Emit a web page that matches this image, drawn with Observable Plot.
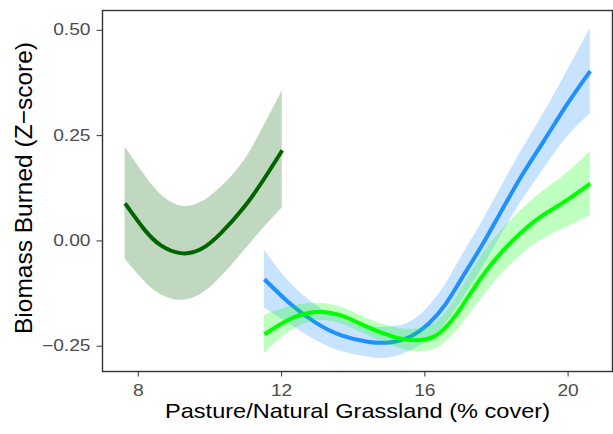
<!DOCTYPE html>
<html><head><meta charset="utf-8">
<script src="https://cdn.jsdelivr.net/npm/d3@7"></script>
<script src="https://cdn.jsdelivr.net/npm/@observablehq/plot@0.6"></script>
<style>html,body{margin:0;padding:0;background:#fff} svg{display:block}</style>
</head><body><div id="chart"></div>
<script>
// Axis ticks and titles
const xTicks = [8, 12, 16, 20];
const yTicks = [-0.25, 0, 0.25, 0.5];
const xTitle = "Pasture/Natural Grassland (% cover)";
const yTitle = "Biomass Burned (Z\u2212score)";

// Dark green smooth
const darkX   = [7.63, 8.16, 8.62, 9.18, 9.74, 10.30, 10.95, 11.51, 12.02];
const darkFit = [0.089, 0.028, -0.010, -0.029, -0.020, 0.018, 0.080, 0.147, 0.215];
const darkHi  = [0.223, 0.158, 0.111, 0.083, 0.091, 0.127, 0.190, 0.273, 0.356];
const darkLo  = [-0.043, -0.095, -0.127, -0.141, -0.127, -0.087, -0.024, 0.032, 0.079];

// Blue smooth
const blueX   = [11.52, 12.2, 12.95, 13.69, 14.44, 15.0, 15.55, 16.11, 16.58, 17.0, 17.55, 18.02, 18.67, 19.32, 19.97, 20.62];
const blueFit = [-0.091, -0.146, -0.194, -0.225, -0.240, -0.241, -0.229, -0.196, -0.150, -0.093, -0.017, 0.053, 0.150, 0.237, 0.324, 0.403];
const blueHi  = [-0.022, -0.096, -0.152, -0.187, -0.204, -0.204, -0.194, -0.156, -0.103, -0.041, 0.038, 0.110, 0.210, 0.303, 0.402, 0.505];
const blueLo  = [-0.160, -0.196, -0.236, -0.263, -0.276, -0.278, -0.264, -0.236, -0.197, -0.145, -0.072, -0.004, 0.090, 0.171, 0.246, 0.301];

// Bright green smooth
const greenX   = [11.52, 12.2, 12.95, 13.69, 14.44, 15.18, 15.74, 16.30, 16.72, 17.0, 17.55, 18.11, 18.67, 19.23, 19.97, 20.62];
const greenFit = [-0.222, -0.187, -0.169, -0.178, -0.206, -0.229, -0.236, -0.225, -0.192, -0.160, -0.090, -0.030, 0.018, 0.057, 0.097, 0.136];
const greenHi  = [-0.177, -0.157, -0.148, -0.158, -0.186, -0.206, -0.209, -0.194, -0.155, -0.118, -0.040, 0.022, 0.071, 0.113, 0.161, 0.212];
const greenLo  = [-0.267, -0.217, -0.190, -0.198, -0.226, -0.252, -0.263, -0.256, -0.229, -0.202, -0.140, -0.082, -0.035, 0.001, 0.033, 0.060];

const rows = (xs, fit, lo, hi) => xs.map((x, i) => ({x, fit: fit[i], lo: lo[i], hi: hi[i]}));
const dark = rows(darkX, darkFit, darkLo, darkHi);
const blue = rows(blueX, blueFit, blueLo, blueHi);
const green = rows(greenX, greenFit, greenLo, greenHi);

const curve = "natural";
const layer = (data, color) => [
  Plot.areaY(data, {x: "x", y1: "lo", y2: "hi", fill: color, fillOpacity: 0.25, curve}),
  Plot.line(data, {x: "x", y: "fit", stroke: color, strokeWidth: 4, strokeLinecap: "butt", curve})
];

const chart = Plot.plot({
  width: 613, height: 434,
  marginLeft: 102, marginRight: 1, marginTop: 10, marginBottom: 63,
  style: {fontFamily: "'Liberation Sans', Arial, sans-serif", fontSize: "16px", background: "white", color: "#333333"},
  x: {domain: [7.0, 21.24], ticks: xTicks, tickSize: 5.5, tickPadding: 8, label: null, tickFormat: d3.format("d")},
  y: {domain: [-0.310, 0.547], ticks: yTicks, tickSize: 5.5, tickPadding: 6.5, label: null, tickFormat: d3.format(".2f")},
  marks: [
    ...layer(dark, "#006400"),
    ...layer(blue, "#1E90FF"),
    ...layer(green, "#00FF00"),
    Plot.frame({stroke: "#333333", strokeWidth: 1.4}),
    Plot.text([xTitle], {text: d => d, frameAnchor: "bottom", dy: 46, fontSize: 21, fill: "black"}),
    Plot.text([yTitle], {text: d => d, frameAnchor: "left", textAnchor: "middle", dx: -78, dy: -3, rotate: -90, fontSize: 24.5, fill: "black"})
  ]
});
document.getElementById("chart").appendChild(chart);

// styling tweaks: tick label colour and horizontal stretch to match the reference proportions
const svg = d3.select(chart);
svg.selectAll('g[aria-label^="x-axis"] text, g[aria-label^="y-axis"] text').each(function() {
  const len = this.getComputedTextLength();
  d3.select(this).attr("fill", "#4D4D4D").attr("textLength", len * 1.2).attr("lengthAdjust", "spacingAndGlyphs");
});
svg.selectAll('g[aria-label="text"] text').each(function() {
  if (this.textContent === xTitle) {
    d3.select(this).attr("textLength", 385).attr("lengthAdjust", "spacingAndGlyphs");
  }
});
</script>
</body></html>
